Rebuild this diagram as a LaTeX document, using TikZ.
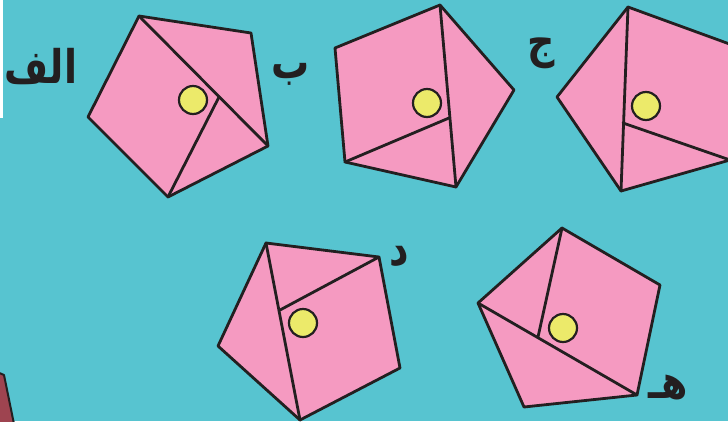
\documentclass[tikz,border=0pt]{standalone}
\usepackage{fontspec}
\newfontfamily\arabicfont[Script=Arabic]{DejaVu Sans}
\TeXXeTstate=1
\definecolor{ozadje}{HTML}{57C4D0}
\definecolor{roza}{HTML}{F59AC1}
\definecolor{rumena}{HTML}{ECEA6A}
\definecolor{crna}{HTML}{231F20}
\definecolor{rdeca}{HTML}{9E4450}
\newcommand{\crka}[1]{\scalebox{1}[1.22]{\beginR #1\endR}}
\tikzset{
	slika/.style={x=1pt, y=-1pt, line join=round, line cap=round},
	lik/.style={draw=crna, fill=roza, line width=2.8pt},
	crta/.style={draw=crna, line width=2.8pt},
	pika/.style={circle, draw=crna, fill=rumena, line width=2.2pt, minimum size=28pt, inner sep=0pt},
	oznaka/.style={font=\arabicfont\bfseries\fontsize{38}{44}\selectfont, text=crna, inner sep=0pt, anchor=base},
}
\begin{document}
\begin{tikzpicture}[slika]

\clip (0,0) rectangle (728,421);
\fill[ozadje] (0,0) rectangle (728,421);
\fill[white] (0,0) rectangle (2.5,118);
\filldraw[fill=rdeca, draw=crna, line width=2pt] (-3,372) -- (4,375) -- (14,424) -- (-3,424) -- cycle;

% الف
\filldraw[lik] (139,16) -- (251,33) -- (268,146) -- (168,197) -- (88,117) -- cycle;
\draw[crta] (139,16) -- (268,146);
\draw[crta] (219,97) -- (168,197);
\node[pika] (pikaA) at (193,100) {};

% ب
\filldraw[lik] (440,5) -- (514,90) -- (456,187) -- (345,162) -- (335,48) -- cycle;
\draw[crta] (440,5) -- (456,187);
\draw[crta] (449,118) -- (345,162);
\node[pika] (pikaB) at (427,103) {};

% ج
\filldraw[lik] (628,7) -- (735,46) -- (730,160) -- (621,191) -- (557,97) -- cycle;
\draw[crta] (628,7) -- (621,191);
\draw[crta] (623,123) -- (730,160);
\node[pika] (pikaC) at (646,106) {};

% د
\filldraw[lik] (266,243) -- (379,257) -- (400,368) -- (300,420) -- (218,346) -- cycle;
\draw[crta] (266,243) -- (300,420);
\draw[crta] (280,310) -- (379,257);
\node[pika] (pikaD) at (303,323) {};

% هـ
\filldraw[lik] (562,228) -- (660,285) -- (637,395) -- (524,407) -- (478,303) -- cycle;
\draw[crta] (478,303) -- (637,395);
\draw[crta] (538,337) -- (562,228);
\node[pika] (pikaE) at (563,328) {};

% oznake
\node[oznaka] (oznA) at (41,83) {\crka{الف}};
\node[oznaka] (oznB) at (291,78) {\crka{ب}};
\node[oznaka] (oznC) at (541,57) {\crka{ج}};
\node[oznaka] (oznD) at (399,265) {\crka{د}};
\node[oznaka] (oznE) at (668,398) {\crka{هـ}};

\end{tikzpicture}
\end{document}
